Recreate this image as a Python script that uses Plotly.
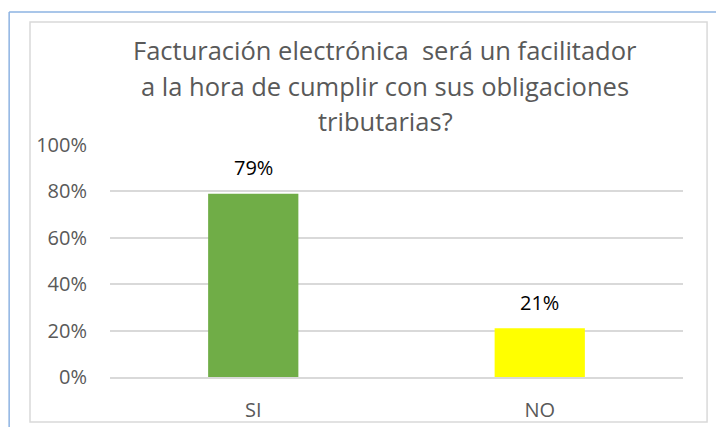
import plotly.graph_objects as go

categories = ['SI', 'NO']
values = [0.79, 0.21]
labels = ['79%', '21%']
bar_colors = ['#70AD47', '#FFFF00']
title_lines = ['Facturación electrónica  será un facilitador',
               'a la hora de cumplir con sus obligaciones',
               'tributarias?']

FONT = 'Open Sans'
GREY = '#595959'

fig = go.Figure()
fig.add_trace(go.Bar(
    x=categories, y=values, marker=dict(color=bar_colors, line=dict(width=0)),
    width=0.315, hoverinfo='skip'
))

# data labels above the bars
for c, v, t in zip(categories, values, labels):
    fig.add_annotation(x=c, y=v, text=t, showarrow=False, yshift=26,
                       font=dict(family=FONT, size=20, color='#000000'))

# title, one line per annotation (paper coords)
for i, line in enumerate(title_lines):
    fig.add_annotation(x=0.48, y=1.409 - i * 0.153, xref='paper', yref='paper',
                       xanchor='center', yanchor='middle',
                       text=line, showarrow=False,
                       font=dict(family=FONT, size=25.5, color=GREY))

# chart border and the blue page lines
fig.add_shape(type='rect', xref='paper', yref='paper',
              x0=-0.1396, x1=1.042, y0=-0.194, y1=1.530,
              line=dict(color='#d9d9d9', width=1.5))
fig.add_shape(type='line', xref='paper', yref='paper',
              x0=-0.176, x1=1.07, y0=1.573, y1=1.573,
              line=dict(color='#8db3e2', width=1.5))
fig.add_shape(type='line', xref='paper', yref='paper',
              x0=-0.176, x1=-0.176, y0=1.573, y1=-0.25,
              line=dict(color='#8db3e2', width=1.5))

fig.update_layout(
    width=716, height=427,
    margin=dict(l=110, r=33, t=145, b=50),
    paper_bgcolor='white', plot_bgcolor='white',
    showlegend=False,
    font=dict(family=FONT, color=GREY),
)
fig.update_yaxes(range=[0, 1], tickvals=[0, 0.2, 0.4, 0.6, 0.8, 1.0],
                 tickformat='.0%', showgrid=True, gridcolor='#d9d9d9', gridwidth=1.5,
                 zeroline=False, showline=False, ticks='', automargin=False,
                 tickfont=dict(family=FONT, size=20, color=GREY),
                 ticklabelstandoff=22, fixedrange=True)
fig.update_xaxes(showgrid=False, showline=True, linecolor='#d9d9d9', linewidth=1.5,
                 ticks='', automargin=False,
                 tickfont=dict(family=FONT, size=20, color=GREY),
                 ticklabelstandoff=14, fixedrange=True)

fig.write_html("out.html", config={'displayModeBar': False},
               post_script="document.body.style.margin='0';"
                           "document.body.style.overflow='hidden';")
